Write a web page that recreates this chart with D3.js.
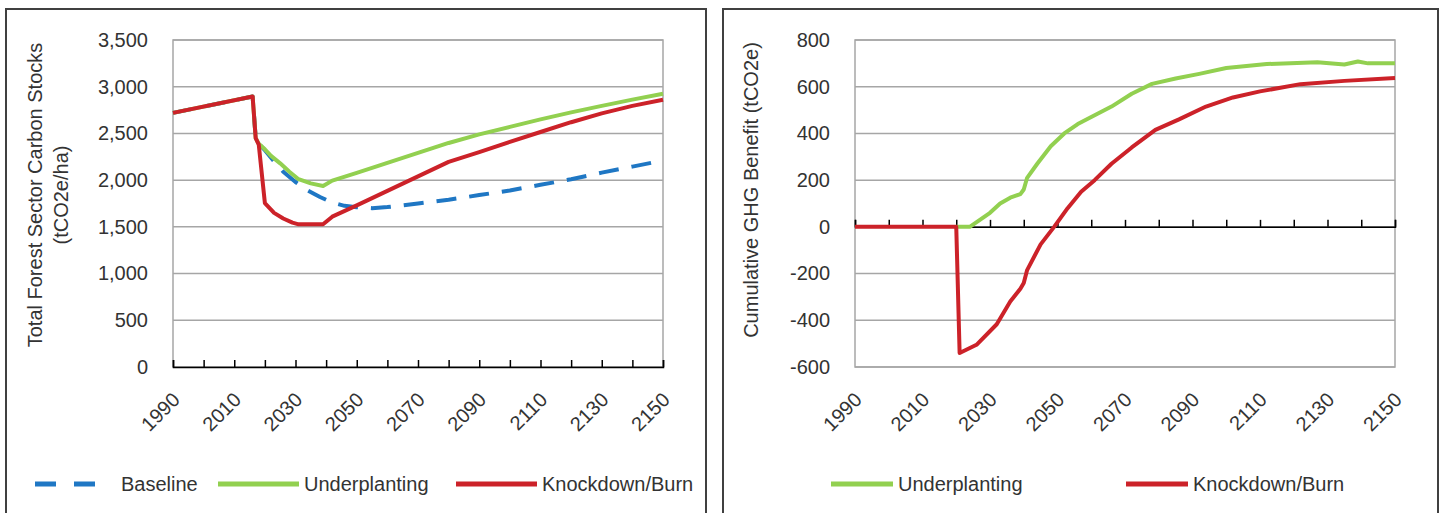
<!DOCTYPE html>
<html>
<head>
<meta charset="utf-8">
<script src="https://cdn.jsdelivr.net/npm/d3@7"></script>
<style>
body { margin: 0; background: #fff; }
svg text { font-family: "Liberation Sans", Arial, sans-serif; fill: #333; font-size: 20px; }
</style>
</head>
<body>
<svg id="chart" width="1440" height="513"></svg>
<script>
// left panel - total forest sector carbon stocks (tCO2e/ha), [year, value]
var baselineStock = [[1990,2720],[2016,2895],[2017,2450],[2018,2390],[2020,2320],[2023,2200],[2026,2090],
  [2030,1980],[2034,1890],[2038,1820],[2042,1760],[2046,1725],[2050,1710],[2055,1700],[2060,1712],
  [2070,1750],[2080,1790],[2090,1840],[2100,1890],[2110,1950],[2120,2010],[2130,2080],[2140,2145],[2150,2210]];
var underplantStock = [[1990,2720],[2016,2895],[2017,2450],[2018,2390],[2020,2330],[2022,2260],[2025,2180],
  [2028,2090],[2031,2010],[2035,1965],[2039,1937],[2042,1995],[2050,2077],[2060,2184],[2070,2291],
  [2080,2398],[2090,2490],[2100,2570],[2110,2650],[2120,2725],[2130,2795],[2140,2862],[2150,2925]];
var knockdownStock = [[1990,2720],[2016,2895],[2017,2450],[2018,2380],[2020,1755],[2023,1650],[2026,1590],
  [2029,1545],[2031,1527],[2039,1527],[2042,1609],[2050,1730],[2060,1885],[2070,2040],[2080,2195],
  [2090,2300],[2100,2410],[2110,2515],[2120,2620],[2130,2715],[2140,2795],[2150,2860]];

// right panel - cumulative GHG benefit (tCO2e)
var underplantBenefit = [[2020,0],[2024,0],[2027,30],[2030,60],[2033,100],[2036,125],[2039,140],[2040,160],
  [2041,210],[2044,270],[2048,345],[2052,400],[2056,440],[2060,470],[2066,515],[2072,570],[2078,612],
  [2085,635],[2092,655],[2100,680],[2112,697],[2127,705],[2135,695],[2139,708],[2142,700],[2150,700]];
var knockdownBenefit = [[1990,0],[2020,0],[2021,-540],[2026,-505],[2032,-417],[2036,-320],[2039,-265],
  [2040,-240],[2041,-185],[2045,-75],[2049,0],[2053,80],[2057,150],[2061,200],[2066,270],[2072,340],
  [2079,415],[2086,460],[2094,515],[2102,554],[2110,580],[2122,611],[2135,625],[2150,637]];

var stockTicks = [0, 500, 1000, 1500, 2000, 2500, 3000, 3500];
var benefitTicks = [-600, -400, -200, 0, 200, 400, 600, 800];
var yearLabels = [1990, 2010, 2030, 2050, 2070, 2090, 2110, 2130, 2150];

var blue = "#1f77c4", green = "#92d050", red = "#cc2229";

var svg = d3.select("#chart");

// panel frames
svg.append("rect").attr("x", 6).attr("y", 9).attr("width", 700).attr("height", 520)
  .attr("fill", "none").attr("stroke", "#404040").attr("stroke-width", 2);
svg.append("rect").attr("x", 723).attr("y", 9).attr("width", 715).attr("height", 520)
  .attr("fill", "none").attr("stroke", "#404040").attr("stroke-width", 2);

function drawPanel(opt) {
  var g = svg.append("g");
  var x = d3.scaleLinear().domain([1990, 2150]).range([opt.left, opt.right]);
  var y = d3.scaleLinear().domain(opt.yDomain).range([367, 40]);

  // gridlines + plot border
  g.selectAll(".grid").data(opt.yTicks).enter().append("line")
    .attr("x1", opt.left).attr("x2", opt.right)
    .attr("y1", function(d) { return y(d); }).attr("y2", function(d) { return y(d); })
    .attr("stroke", "#a6a6a6").attr("stroke-width", 1.5);
  g.append("rect").attr("x", opt.left).attr("y", 40)
    .attr("width", opt.right - opt.left).attr("height", 327)
    .attr("fill", "none").attr("stroke", "#a6a6a6").attr("stroke-width", 1.5);

  // y tick labels
  g.append("g").attr("transform", "translate(" + (opt.left - 22) + ",0)")
    .call(d3.axisLeft(y).tickValues(opt.yTicks).tickSize(0).tickFormat(opt.fmt))
    .call(function(a) { a.select(".domain").remove(); })
    .selectAll("text").attr("fill", "#333");

  // category axis line with inside ticks
  var ax = g.append("g").attr("transform", "translate(0," + y(opt.axisAt) + ")")
    .call(d3.axisBottom(x).tickValues(d3.range(1990, 2151, 10)).tickSize(-7).tickFormat(""));
  ax.select(".domain").attr("stroke", "#000").attr("stroke-width", 1.5);
  ax.selectAll(".tick line").attr("stroke", "#000").attr("stroke-width", 1.5);

  // year labels at the bottom, rotated
  g.selectAll(".yl").data(yearLabels).enter().append("text")
    .attr("text-anchor", "end")
    .attr("transform", function(d) { return "translate(" + (x(d) + 8) + ",401) rotate(-45)"; })
    .text(function(d) { return d; });

  var line = d3.line().x(function(d) { return x(d[0]); }).y(function(d) { return y(d[1]); });
  opt.series.forEach(function(s) {
    g.append("path").datum(s.data).attr("d", line)
      .attr("fill", "none").attr("stroke", s.color).attr("stroke-width", 4)
      .attr("stroke-linejoin", "round")
      .attr("stroke-dasharray", s.dash || null);
  });
  return g;
}

drawPanel({
  left: 173, right: 663, yDomain: [0, 3500], yTicks: stockTicks, axisAt: 0,
  fmt: d3.format(","),
  series: [
    { data: baselineStock, color: blue, dash: "20,13" },
    { data: underplantStock, color: green },
    { data: knockdownStock, color: red }
  ]
});

drawPanel({
  left: 855, right: 1395, yDomain: [-600, 800], yTicks: benefitTicks, axisAt: 0,
  fmt: function(d) { return String(d); },
  series: [
    { data: underplantBenefit, color: green },
    { data: knockdownBenefit, color: red }
  ]
});

// axis titles
var t1 = svg.append("text").attr("text-anchor", "middle")
  .attr("transform", "translate(42,195) rotate(-90)");
t1.append("tspan").attr("x", 0).attr("y", 0).text("Total Forest Sector Carbon Stocks");
t1.append("tspan").attr("x", 0).attr("y", 26).text("(tCO2e/ha)");
svg.append("text").attr("text-anchor", "middle")
  .attr("transform", "translate(758,190) rotate(-90)")
  .text("Cumulative GHG Benefit (tCO2e)");

// legends
function legendItem(x1, x2, color, dash, label) {
  svg.append("line").attr("x1", x1).attr("x2", x2).attr("y1", 484).attr("y2", 484)
    .attr("stroke", color).attr("stroke-width", 5).attr("stroke-dasharray", dash || null);
  svg.append("text").attr("x", x2 + 5 + (dash ? 20 : 0)).attr("y", 484).attr("dy", "0.35em").text(label);
}
legendItem(35, 96, blue, "21,18", "Baseline");
legendItem(218, 299, green, null, "Underplanting");
legendItem(456, 537, red, null, "Knockdown/Burn");
legendItem(831, 893, green, null, "Underplanting");
legendItem(1126, 1188, red, null, "Knockdown/Burn");
</script>
</body>
</html>
